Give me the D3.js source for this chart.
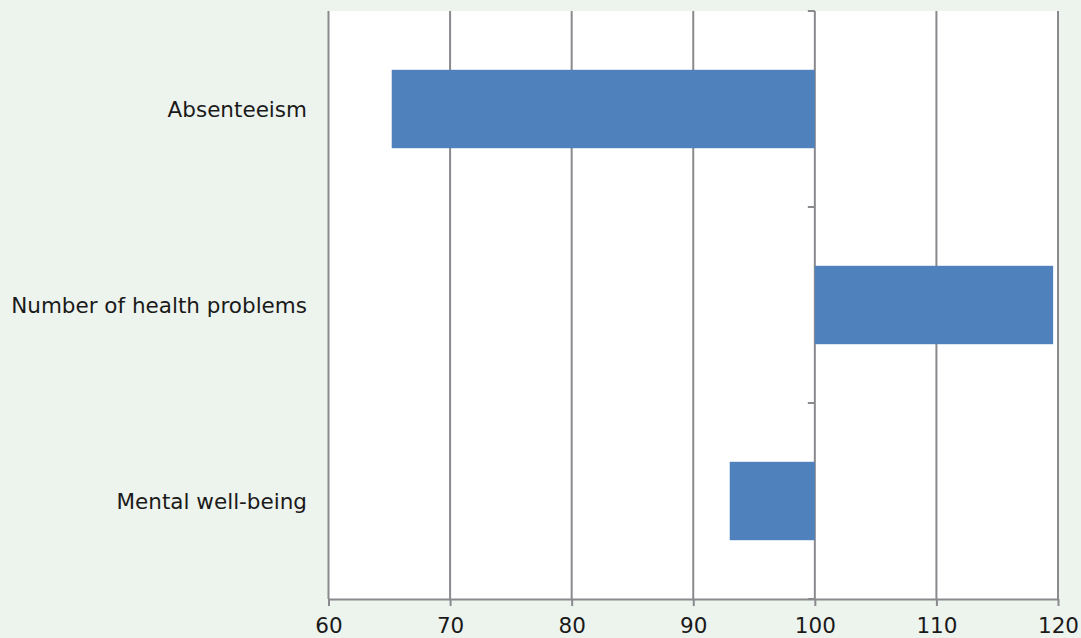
<!DOCTYPE html>
<html>
<head>
<meta charset="utf-8">
<script src="https://cdn.jsdelivr.net/npm/d3@7"></script>
<style>
  html, body { margin: 0; padding: 0; background: #edf3ed; }
  svg { display: block; }
  text { font-family: "DejaVu Sans", Verdana, sans-serif; font-size: 21.5px; fill: #1a1a1a; }
</style>
</head>
<body>
<svg width="1081" height="638"></svg>
<script>
// Categories, top to bottom
const categories = ['Absenteeism', 'Number of health problems', 'Mental well-being']
// Index value per category (bars start at the baseline of 100)
const values = [65.2, 119.6, 93.0]
const baseline = 100
const xTicks = [60, 70, 80, 90, 100, 110, 120]

const gridColor = '#8a8a8e'
const barColor = '#4f81bd'

const svg = d3.select('svg')
// Plot area edges
const plotLeft = 328.5, plotRight = 1058, plotTop = 11, plotBottom = 599

const x = d3.scaleLinear().domain([60, 120]).range([plotLeft, plotRight])
const y = d3.scaleBand().domain(categories).range([plotTop, plotBottom]).paddingInner(0.6).paddingOuter(0.3)

// White plot area
svg.append('rect')
  .attr('x', plotLeft).attr('y', plotTop)
  .attr('width', plotRight - plotLeft).attr('height', plotBottom - plotTop)
  .attr('fill', '#fff')

// Vertical gridlines
svg.append('g')
  .selectAll('line')
  .data(xTicks)
  .enter()
  .append('line')
  .attr('x1', (d) => x(d)).attr('x2', (d) => x(d))
  .attr('y1', plotTop).attr('y2', plotBottom)
  .attr('stroke', gridColor)
  .attr('stroke-width', 2)

// Bars drawn from the baseline
svg.append('g')
  .selectAll('rect')
  .data(categories)
  .enter()
  .append('rect')
  .attr('x', (d, i) => x(Math.min(values[i], baseline)))
  .attr('width', (d, i) => Math.abs(x(values[i]) - x(baseline)))
  .attr('y', (d) => y(d))
  .attr('height', y.bandwidth())
  .attr('fill', barColor)

// Bottom value axis
const xAxis = svg.append('g')
  .attr('transform', `translate(0,${plotBottom})`)
  .call(d3.axisBottom(x).tickValues(xTicks).tickSize(7).tickPadding(12).tickSizeOuter(0))
xAxis.attr('font-size', null).attr('font-family', null)
xAxis.select('.domain').attr('stroke', gridColor).attr('stroke-width', 2)
xAxis.selectAll('.tick line').attr('stroke', gridColor).attr('stroke-width', 2)
xAxis.selectAll('.tick text').attr('fill', null)

// Category axis crossing at 100, ticks on band boundaries
const boundaries = [plotTop].concat(categories.map((d) => y(d) + y.bandwidth() + y.step() * 0.3))
svg.append('g')
  .selectAll('line')
  .data(boundaries)
  .enter()
  .append('line')
  .attr('x1', x(baseline) - 7).attr('x2', x(baseline))
  .attr('y1', (d) => d).attr('y2', (d) => d)
  .attr('stroke', gridColor)
  .attr('stroke-width', 2)

// Category labels on the left of the plot
svg.append('g')
  .selectAll('text')
  .data(categories)
  .enter()
  .append('text')
  .attr('x', 307)
  .attr('y', (d) => y(d) + y.bandwidth() / 2)
  .attr('dy', '0.35em')
  .attr('text-anchor', 'end')
  .text((d) => d)
</script>
</body>
</html>
